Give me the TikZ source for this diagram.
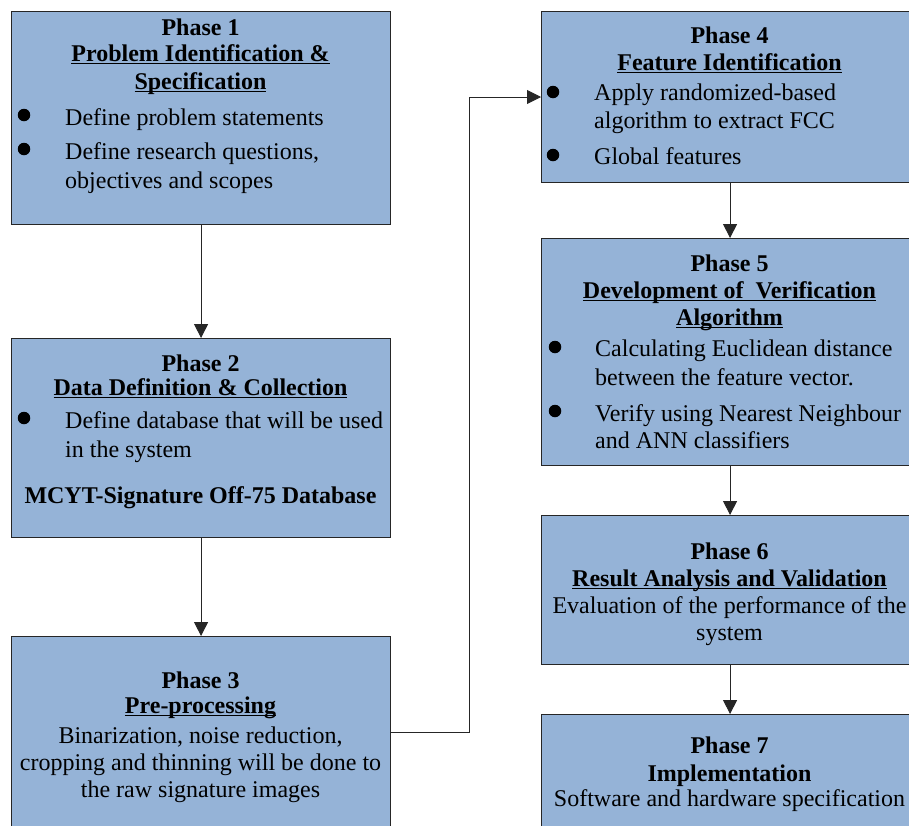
\documentclass[tikz,border=0pt]{standalone}
\usepackage{fontspec}
\setmainfont{Liberation Serif}
\usetikzlibrary{arrows.meta}
\definecolor{boxfill}{RGB}{149,179,215}
\newcommand\myul[1]{\setbox0\hbox{#1}\rlap{\rule[-3pt]{\wd0}{1.3pt}}\box0}
\tikzset{
  x=1pt,y=1pt,
  box/.style={draw=black!85,line width=1.1pt,fill=boxfill,anchor=north west,inner sep=0pt},
  tx/.style={inner sep=0pt,font=\fontsize{24}{27.6}\selectfont},
  ctr/.style={tx,anchor=base},
  lft/.style={tx,anchor=base west},
  bul/.style={circle,fill=black,inner sep=0pt,minimum size=12.5pt},
  arr/.style={draw=black!85,line width=0.9pt,-{Triangle[length=14pt,width=14pt]}},
}
\begin{document}
\begin{tikzpicture}
\useasboundingbox (0,0) rectangle (909,-825);
\clip (0,0) rectangle (909,-825);
\fill[white] (0,0) rectangle (909,-825);
% boxes
\node[box,minimum width=379pt,minimum height=213pt] (p1) at (11,-11) {};
\node[box,minimum width=379pt,minimum height=199pt] (p2) at (11,-338) {};
\node[box,minimum width=379pt,minimum height=200pt] (p3) at (11,-636) {};
\node[box,minimum width=377pt,minimum height=171pt] (p4) at (541,-11) {};
\node[box,minimum width=377pt,minimum height=227pt] (p5) at (541,-238) {};
\node[box,minimum width=377pt,minimum height=149pt] (p6) at (541,-515) {};
\node[box,minimum width=377pt,minimum height=130pt] (p7) at (541,-714) {};
% phase 1
\node[ctr] (a1) at (200.5,-35) {\textbf{Phase 1}};
\node[ctr] (a2) at (200.5,-61) {\textbf{\myul{Problem Identification \&}}};
\node[ctr] (a3) at (200.5,-89) {\textbf{\myul{Specification}}};
\node[bul] (ab1) at (24,-115) {};
\node[lft] (a4) at (65,-125) {Define problem statements};
\node[bul] (ab2) at (24,-149) {};
\node[lft] (a5) at (65,-159) {Define research questions,};
\node[lft] (a6) at (65,-188) {objectives and scopes};
% phase 2
\node[ctr] (b1) at (200.5,-371) {\textbf{Phase 2}};
\node[ctr] (b2) at (200.5,-395) {\textbf{\myul{Data Definition \& Collection}}};
\node[bul] (bb1) at (24,-418) {};
\node[lft] (b3) at (65,-428) {Define database that will be used};
\node[lft] (b4) at (65,-457) {in the system};
\node[ctr] (b5) at (200.5,-503) {\textbf{MCYT-Signature Off-75 Database}};
% phase 3
\node[ctr] (c1) at (200.5,-688) {\textbf{Phase 3}};
\node[ctr] (c2) at (200.5,-713) {\textbf{\myul{Pre-processing}}};
\node[ctr] (c3) at (200.5,-743) {Binarization, noise reduction,};
\node[ctr] (c4) at (200.5,-770) {cropping and thinning will be done to};
\node[ctr] (c5) at (200.5,-797) {the raw signature images};
% phase 4
\node[ctr] (d1) at (729.5,-43) {\textbf{Phase 4}};
\node[ctr] (d2) at (729.5,-70) {\textbf{\myul{Feature Identification}}};
\node[bul] (db1) at (553,-92) {};
\node[lft] (d3) at (594,-100) {Apply randomized-based};
\node[lft] (d4) at (594,-128) {algorithm to extract FCC};
\node[bul] (db2) at (553,-155) {};
\node[lft] (d5) at (594,-164) {Global features};
% phase 5
\node[ctr] (e1) at (729.5,-271) {\textbf{Phase 5}};
\node[ctr] (e2) at (729.5,-298) {\textbf{\myul{Development of\ \ Verification}}};
\node[ctr] (e3) at (729.5,-325) {\textbf{\myul{Algorithm}}};
\node[bul] (eb1) at (555,-347) {};
\node[lft] (e4) at (595,-356) {Calculating Euclidean distance};
\node[lft] (e5) at (595,-385) {between the feature vector.};
\node[bul] (eb2) at (555,-411) {};
\node[lft] (e6) at (595,-421) {Verify using Nearest Neighbour};
\node[lft] (e7) at (595,-448) {and ANN classifiers};
% phase 6
\node[ctr] (f1) at (729.5,-559) {\textbf{Phase 6}};
\node[ctr] (f2) at (729.5,-586) {\textbf{\myul{Result Analysis and Validation}}};
\node[ctr] (f3) at (729.5,-613) {Evaluation of the performance of the};
\node[ctr] (f4) at (729.5,-640) {system};
% phase 7
\node[ctr] (g1) at (729.5,-753) {\textbf{Phase 7}};
\node[ctr] (g2) at (729.5,-781) {\textbf{Implementation}};
\node[ctr] (g3) at (729.5,-806) {Software and hardware specification};
% connectors
\coordinate (k1) at (469,-732);
\coordinate (k2) at (469,-97);
\draw[arr] (p1.south) -- (p2.north);
\draw[arr] (p2.south) -- (p3.north);
\draw[arr] (p3.east |- k1) -- (k1) -- (k2) -- (p4.west |- k2);
\draw[arr] (p4.south) -- (p5.north);
\draw[arr] (p5.south) -- (p6.north);
\draw[arr] (p6.south) -- (p7.north);
\end{tikzpicture}
\end{document}
